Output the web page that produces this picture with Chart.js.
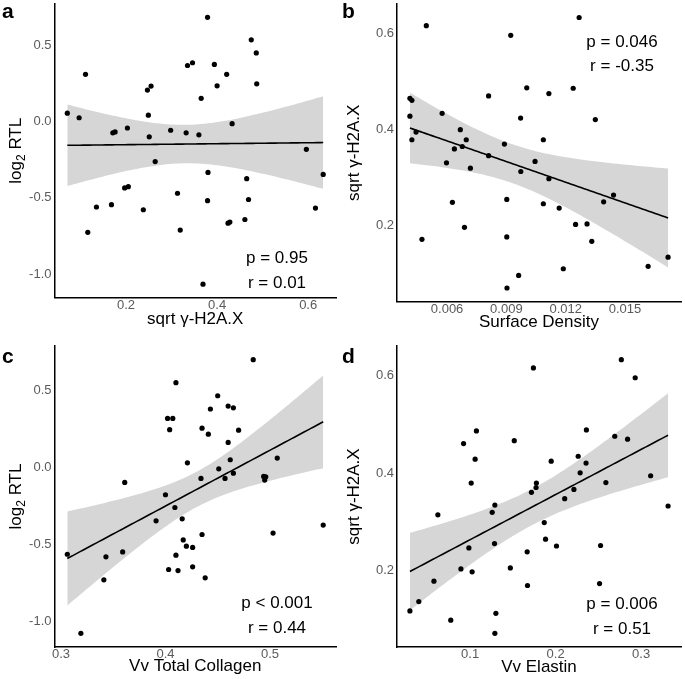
<!DOCTYPE html>
<html>
<head>
<meta charset="utf-8">
<script src="https://cdn.jsdelivr.net/npm/chart.js@4.4.0/dist/chart.umd.min.js"></script>
<style>
  body { margin: 0; background: #fff; width: 685px; height: 679px; position: relative; overflow: hidden; }
  canvas { position: absolute; }
</style>
</head>
<body>
<canvas id="panelA" style="left:0;top:0"></canvas>
<canvas id="panelB" style="left:340px;top:0"></canvas>
<canvas id="panelC" style="left:0;top:340px"></canvas>
<canvas id="panelD" style="left:340px;top:340px"></canvas>
<script>
// ---- data ----
// a: sqrt gamma-H2A.X vs log2 RTL
const aX = [0.071,0.097,0.111,0.116,0.135,0.168,0.171,0.176,0.203,0.197,0.205,0.238,0.247,0.255,0.249,0.251,0.264,0.298,0.313,0.319,0.332,0.335,0.346,0.360,0.365,0.369,0.379,0.380,0.379,0.394,0.400,0.421,0.424,0.428,0.433,0.461,0.465,0.469,0.475,0.486,0.487,0.596,0.616,0.633];
const aY = [0.054,0.024,0.308,-0.726,-0.560,-0.545,-0.075,-0.069,-0.043,-0.435,-0.427,-0.578,0.205,0.231,0.041,-0.101,-0.263,-0.058,-0.470,-0.711,-0.075,0.366,0.384,-0.088,0.151,-1.065,0.681,-0.334,-0.519,0.373,0.233,0.308,-0.666,-0.659,-0.015,-0.642,-0.375,-0.511,0.534,0.448,0.246,-0.183,-0.567,-0.347];

// b: surface density vs sqrt gamma-H2A.X
const bX = [0.00412,0.00422,0.00412,0.00422,0.00443,0.00473,0.00495,0.00575,0.00597,0.00627,0.00637,0.00667,0.00677,0.00688,0.00697,0.00718,0.0081,0.0081,0.0089,0.00902,0.00902,0.00903,0.00922,0.00962,0.00972,0.00973,0.01003,0.01045,0.01087,0.01087,0.01115,0.01115,0.01167,0.01188,0.01238,0.0125,0.01268,0.01308,0.01332,0.0135,0.01392,0.01442,0.01617,0.01718];
const bY = [0.465,0.461,0.428,0.379,0.395,0.172,0.616,0.434,0.331,0.249,0.360,0.400,0.365,0.197,0.379,0.320,0.470,0.346,0.370,0.255,0.177,0.071,0.596,0.097,0.424,0.313,0.487,0.334,0.379,0.246,0.475,0.298,0.237,0.111,0.486,0.203,0.633,0.204,0.168,0.421,0.250,0.264,0.116,0.135];

// c: Vv total collagen vs log2 RTL
const cX = [0.306,0.319,0.341,0.343,0.359,0.361,0.391,0.400,0.402,0.407,0.404,0.403,0.409,0.410,0.410,0.412,0.416,0.417,0.420,0.421,0.426,0.426,0.434,0.435,0.435,0.438,0.441,0.443,0.450,0.451,0.457,0.460,0.460,0.462,0.465,0.465,0.470,0.484,0.494,0.495,0.496,0.503,0.507,0.551];
const cY = [-0.563,-1.076,-0.729,-0.580,-0.548,-0.097,-0.346,-0.177,0.318,0.318,0.245,-0.662,-0.260,0.550,-0.569,-0.669,-0.333,-0.470,-0.511,0.030,-0.519,-0.645,-0.071,0.255,-0.435,-0.716,0.216,0.379,0.465,-0.009,-0.071,0.398,0.162,0.050,0.387,-0.037,0.242,0.699,-0.058,-0.082,-0.061,-0.426,0.061,-0.374];

// d: Vv elastin vs sqrt gamma-H2A.X
const dX = [0.0295,0.0399,0.0576,0.0622,0.0773,0.0892,0.0923,0.0985,0.1012,0.1023,0.1058,0.1073,0.1258,0.1289,0.1285,0.1301,0.1289,0.1470,0.1516,0.1667,0.1671,0.1717,0.1740,0.1771,0.1775,0.1867,0.1882,0.1948,0.2010,0.2106,0.2214,0.2264,0.2287,0.2356,0.2360,0.2514,0.2526,0.2588,0.2692,0.2769,0.2842,0.2931,0.3112,0.3316];
const dY = [0.118,0.137,0.179,0.315,0.099,0.204,0.461,0.247,0.380,0.198,0.429,0.487,0.320,0.335,0.256,0.113,0.072,0.206,0.467,0.239,0.170,0.361,0.616,0.371,0.380,0.299,0.265,0.425,0.251,0.348,0.367,0.435,0.401,0.421,0.489,0.174,0.252,0.381,0.476,0.633,0.470,0.596,0.395,0.333];

// tick values and labels
const aXTicks = [0.2, 0.4, 0.6],            aXLabels = ['0.2', '0.4', '0.6'];
const rtlTicks = [0.5, 0, -0.5, -1],        rtlLabels = ['0.5', '0.0', '-0.5', '-1.0'];
const bXTicks = [0.006, 0.009, 0.012, 0.015], bXLabels = ['0.006', '0.009', '0.012', '0.015'];
const h2aTicks = [0.2, 0.4, 0.6],           h2aLabels = ['0.2', '0.4', '0.6'];
const cXTicks = [0.3, 0.4, 0.5],            cXLabels = ['0.3', '0.4', '0.5'];
const dXTicks = [0.1, 0.2, 0.3],            dXLabels = ['0.1', '0.2', '0.3'];

// stats text
const aStats = ['p = 0.95', 'r = 0.01'];
const bStats = ['p = 0.046', 'r = -0.35'];
const cStats = ['p < 0.001', 'r = 0.44'];
const dStats = ['p = 0.006', 'r = 0.51'];

const FONT = "'Liberation Sans', Arial, Helvetica, sans-serif";
const RTL_TITLE = [{ t: 'log' }, { t: '2', sub: true }, { t: ' RTL' }];
const H2A_TITLE = [{ t: 'sqrt \u03b3-H2A.X' }];

// t quantile (0.975) via Cornish-Fisher style expansion
function tQuant(df) {
    const z = 1.959964;
    return z + (z ** 3 + z) / (4 * df) + (5 * z ** 5 + 16 * z ** 3 + 3 * z) / (96 * df * df);
}

// linear fit with 95% confidence band, like geom_smooth(method = 'lm')
function lmBand(xs, ys, steps = 80) {
    const n = xs.length;
    const mx = xs.reduce((s, v) => s + v, 0) / n;
    const my = ys.reduce((s, v) => s + v, 0) / n;
    let sxx = 0, sxy = 0;
    xs.forEach((x, i) => { sxx += (x - mx) ** 2; sxy += (x - mx) * (ys[i] - my); });
    const slope = sxy / sxx, icpt = my - slope * mx;
    let sse = 0;
    xs.forEach((x, i) => { sse += (ys[i] - icpt - slope * x) ** 2; });
    const s = Math.sqrt(sse / (n - 2));
    const t = tQuant(n - 2);
    const lo = Math.min(...xs), hi = Math.max(...xs);
    const line = [], upper = [], lower = [];
    for (let i = 0; i <= steps; i++) {
        const x = lo + (hi - lo) * i / steps;
        const yh = icpt + slope * x;
        const se = s * Math.sqrt(1 / n + (x - mx) ** 2 / sxx);
        line.push({ x, y: yh });
        upper.push({ x, y: yh + t * se });
        lower.push({ x, y: yh - t * se });
    }
    return { line, upper, lower };
}

// ggplot-style 5% expansion
function expand(vals) {
    const lo = Math.min(...vals), hi = Math.max(...vals);
    const d = (hi - lo) * 0.05;
    return [lo - d, hi + d];
}

function drawTitle(ctx, parts, cx, cy, rotate) {
    ctx.save();
    ctx.translate(cx, cy);
    if (rotate) ctx.rotate(-Math.PI / 2);
    ctx.textAlign = 'left';
    ctx.textBaseline = 'middle';
    const widths = parts.map(p => {
        ctx.font = (p.sub ? '12px ' : '17px ') + FONT;
        return ctx.measureText(p.t).width;
    });
    let x = -widths.reduce((s, w) => s + w, 0) / 2;
    parts.forEach((p, i) => {
        ctx.font = (p.sub ? '12px ' : '17px ') + FONT;
        ctx.fillText(p.t, x, p.sub ? 5 : 0);
        x += widths[i];
    });
    ctx.restore();
}

function textPlugin(spec) {
    return {
        id: 'panelText',
        afterDraw(chart) {
            const ctx = chart.ctx, area = chart.chartArea;
            ctx.save();
            ctx.fillStyle = '#000';
            ctx.font = 'bold 21px ' + FONT;
            ctx.textAlign = 'left';
            ctx.textBaseline = 'alphabetic';
            ctx.fillText(spec.letter, 2, spec.letterY);

            ctx.font = '17px ' + FONT;
            ctx.textAlign = 'center';
            ctx.textBaseline = 'middle';
            ctx.fillText(spec.stats[0], spec.statX, spec.statY[0]);
            ctx.fillText(spec.stats[1], spec.statX, spec.statY[1]);

            drawTitle(ctx, [{ t: spec.xTitle }], (area.left + area.right) / 2, spec.xTitleY, false);
            drawTitle(ctx, spec.yTitle, spec.yTitleX, (area.top + area.bottom) / 2, true);
            ctx.restore();
        }
    };
}

function makePanel(id, spec) {
    const canvas = document.getElementById(id);
    canvas.width = spec.w;
    canvas.height = spec.h;

    const fit = lmBand(spec.xs, spec.ys);
    const xr = expand(spec.xs);
    const yr = expand(spec.ys.concat(fit.upper.map(p => p.y), fit.lower.map(p => p.y)));
    const points = spec.xs.map((x, i) => ({ x, y: spec.ys[i] }));

    const tickFont = { family: FONT, size: 13 };

    return new Chart(canvas, {
        type: 'scatter',
        data: {
            datasets: [
                { data: points, backgroundColor: '#000', borderWidth: 0, pointRadius: 2.6, order: 0, clip: false },
                { type: 'line', data: fit.line, borderColor: '#000', borderWidth: 1.6, pointRadius: 0, fill: false, tension: 0, order: 1 },
                { type: 'line', data: fit.upper, borderColor: 'transparent', borderWidth: 0, pointRadius: 0, fill: '+1', backgroundColor: '#d6d6d6', order: 2 },
                { type: 'line', data: fit.lower, borderColor: 'transparent', borderWidth: 0, pointRadius: 0, fill: false, order: 3 }
            ]
        },
        options: {
            responsive: false,
            animation: false,
            events: [],
            layout: { padding: { left: 0, top: spec.padT, right: spec.padR, bottom: 0 } },
            plugins: { legend: { display: false }, tooltip: { enabled: false } },
            scales: {
                x: {
                    type: 'linear',
                    bounds: 'data',
                    min: xr[0],
                    max: xr[1],
                    grid: { display: false, drawTicks: false },
                    border: { display: true, color: '#000', width: 1.5 },
                    ticks: {
                        color: '#5a5a5a', font: tickFont, padding: 0, maxRotation: 0, autoSkip: false,
                        callback: (v, i) => spec.xLabels[i]
                    },
                    afterBuildTicks: s => { s.ticks = spec.xTicks.map(v => ({ value: v })); },
                    afterFit: s => { s.height = spec.xH; s.paddingLeft = 0; s.paddingRight = 0; }
                },
                y: {
                    type: 'linear',
                    bounds: 'data',
                    min: yr[0],
                    max: yr[1],
                    grid: { display: false, drawTicks: false },
                    border: { display: true, color: '#000', width: 1.5 },
                    ticks: {
                        color: '#5a5a5a', font: tickFont, padding: 3, autoSkip: false,
                        callback: (v, i) => spec.yLabels[i]
                    },
                    afterBuildTicks: s => { s.ticks = spec.yTicks.map(v => ({ value: v })); },
                    afterFit: s => { s.width = spec.yW; s.paddingTop = 0; s.paddingBottom = 0; }
                }
            }
        },
        plugins: [textPlugin(spec)]
    });
}

makePanel('panelA', {
    w: 340, h: 340, yW: 54.5, xH: 42.5, padT: 0, padR: 2,
    xs: aX, ys: aY, xTicks: aXTicks, xLabels: aXLabels, yTicks: rtlTicks, yLabels: rtlLabels,
    letter: 'a', letterY: 18, stats: aStats, statX: 277, statY: [258, 283],
    xTitle: 'sqrt \u03b3-H2A.X', xTitleY: 319, yTitle: RTL_TITLE, yTitleX: 16.5
});
makePanel('panelB', {
    w: 345, h: 340, yW: 57, xH: 38.5, padT: 0, padR: 1.5,
    xs: bX, ys: bY, xTicks: bXTicks, xLabels: bXLabels, yTicks: h2aTicks, yLabels: h2aLabels,
    letter: 'b', letterY: 18, stats: bStats, statX: 282, statY: [42, 66],
    xTitle: 'Surface Density', xTitleY: 322, yTitle: H2A_TITLE, yTitleX: 14
});
makePanel('panelC', {
    w: 340, h: 339, yW: 54.5, xH: 32, padT: 6, padR: 2,
    xs: cX, ys: cY, xTicks: cXTicks, xLabels: cXLabels, yTicks: rtlTicks, yLabels: rtlLabels,
    letter: 'c', letterY: 23, stats: cStats, statX: 277, statY: [263, 288],
    xTitle: 'Vv Total Collagen', xTitleY: 326, yTitle: RTL_TITLE, yTitleX: 16.5
});
makePanel('panelD', {
    w: 345, h: 339, yW: 57, xH: 32, padT: 6, padR: 1.5,
    xs: dX, ys: dY, xTicks: dXTicks, xLabels: dXLabels, yTicks: h2aTicks, yLabels: h2aLabels,
    letter: 'd', letterY: 23, stats: dStats, statX: 282, statY: [264, 289],
    xTitle: 'Vv Elastin', xTitleY: 327, yTitle: H2A_TITLE, yTitleX: 14
});
</script>
</body>
</html>
